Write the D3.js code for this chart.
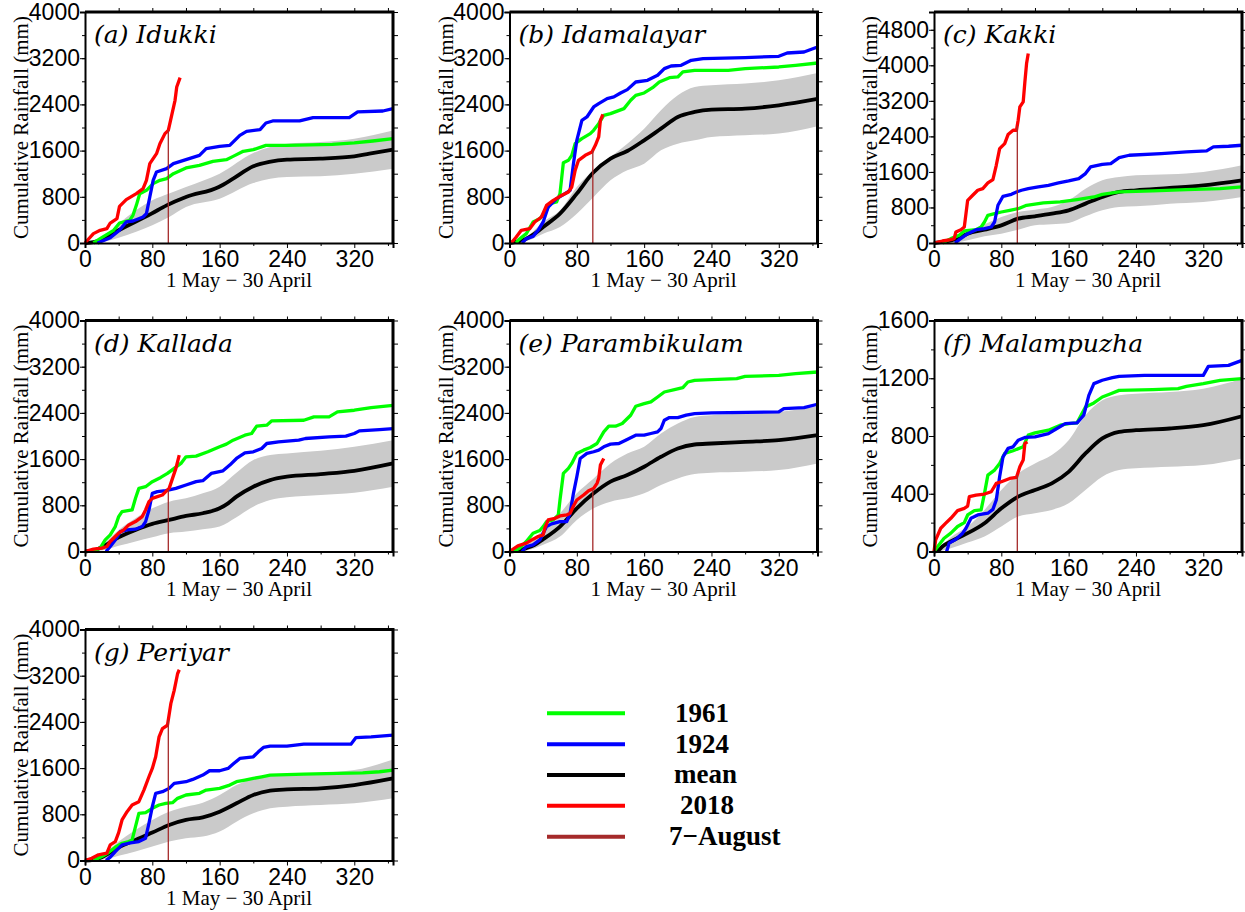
<!DOCTYPE html>
<html>
<head>
<meta charset="utf-8">
<script src="https://cdn.jsdelivr.net/npm/d3@7"></script>
<style>
  body { margin: 0; background: #fff; }
  svg { display: block; }
  .tick text { font-family: "Liberation Sans", Arial, sans-serif; font-size: 23px; fill: #000; }
</style>
</head>
<body>
<div class="chart"></div>
<script>
// [day since 1 May, cumulative mm]; band rows are [day, lower, upper]

// (a) Idukki
const idukkiMean = [[0,0],[10,15],[18,46],[40,220],[79,508],[97,652],[120,797],[159,970],[176,1114],[200,1328],[219,1403],[240,1443],[279,1460],[320,1500],[338,1547],[366,1616]];
const idukkiBand = [[0,0,0],[20,20,80],[40,92,335],[80,306,739],[100,450,855],[120,623,970],[160,768,1200],[200,1039,1558],[220,1114,1663],[240,1143,1720],[280,1155,1749],[320,1200,1807],[366,1287,1950]];
const idukki1961 = [[10,0],[18,75],[34,220],[41,346],[53,392],[57,479],[61,652],[65,854],[73,912],[81,1028],[89,1085],[97,1114],[105,1200],[120,1299],[136,1345],[152,1414],[168,1443],[176,1500],[188,1588],[200,1616],[215,1691],[240,1691],[294,1709],[320,1732],[342,1766],[366,1807]];
const idukki1924 = [[15,0],[30,92],[41,220],[49,364],[57,381],[69,450],[73,508],[77,797],[81,1085],[85,1230],[97,1287],[105,1374],[120,1443],[136,1518],[144,1634],[160,1674],[172,1691],[184,1865],[192,1934],[208,1963],[215,2078],[223,2113],[255,2113],[271,2171],[314,2171],[324,2269],[354,2286],[366,2327]];
const idukki2018 = [[0,0],[10,162],[18,220],[26,248],[30,346],[38,421],[41,635],[49,750],[61,854],[69,941],[73,1085],[77,1374],[85,1547],[89,1720],[95,1894],[99,1951],[103,2211],[107,2471],[109,2702],[113,2863]];

// (b) Idamalayar
const idamalayarMean = [[0,0],[20,75],[30,162],[40,277],[60,508],[80,854],[99,1212],[120,1460],[140,1593],[160,1778],[180,1980],[200,2182],[220,2269],[240,2309],[280,2327],[320,2384],[366,2494]];
const idamalayarBand = [[0,0,0],[20,35,104],[40,162,364],[60,277,566],[80,508,970],[100,797,1258],[120,1085,1490],[140,1258,1720],[160,1374,1980],[180,1605,2298],[200,1720,2557],[220,1778,2702],[240,1836,2731],[280,1865,2760],[320,1894,2817],[366,2021,2944]];
const idamalayar1961 = [[8,0],[10,46],[20,162],[28,364],[36,421],[44,566],[48,681],[56,710],[60,854],[64,1391],[70,1432],[74,1518],[78,1720],[86,1807],[96,1894],[100,1951],[106,2067],[112,2211],[120,2240],[136,2327],[144,2471],[150,2557],[160,2598],[170,2690],[178,2788],[190,2863],[200,2875],[206,2962],[220,2990],[260,2990],[280,3019],[320,3048],[340,3077],[366,3117]];
const idamalayar1924 = [[15,0],[20,75],[28,115],[34,220],[40,364],[46,623],[56,768],[66,854],[72,912],[76,1374],[80,1778],[86,2124],[92,2182],[100,2355],[106,2413],[116,2500],[124,2529],[132,2598],[140,2656],[150,2788],[164,2817],[176,2904],[184,3019],[192,3065],[204,3077],[216,3163],[230,3192],[280,3210],[320,3233],[330,3290],[350,3307],[366,3394]];
const idamalayar2018 = [[2,0],[8,104],[14,220],[24,248],[30,364],[38,450],[44,652],[52,739],[60,808],[70,883],[74,970],[78,1258],[82,1432],[90,1518],[98,1576],[102,1691],[106,1836],[108,2124],[111,2228]];

// (c) Kakki
const kakkiMean = [[0,0],[10,23],[30,120],[40,210],[60,300],[80,398],[100,548],[120,601],[140,661],[160,736],[180,886],[200,1036],[220,1149],[240,1187],[280,1239],[320,1299],[366,1412]];
const kakkiBand = [[0,0,0],[20,0,60],[40,60,248],[60,150,420],[80,210,586],[100,300,698],[120,398,751],[140,420,811],[160,450,961],[180,601,1224],[200,736,1412],[220,811,1487],[240,826,1525],[280,886,1547],[320,924,1600],[366,1036,1750]];
const kakki1961 = [[10,0],[20,98],[30,173],[36,270],[50,300],[56,360],[60,473],[64,623],[72,661],[80,698],[90,736],[100,773],[110,849],[130,901],[150,924],[170,976],[190,1036],[200,1096],[220,1149],[260,1172],[300,1202],[340,1224],[366,1262]];
const kakki1924 = [[25,0],[30,75],[40,210],[50,300],[60,323],[68,360],[72,473],[76,849],[82,1051],[92,1096],[98,1149],[104,1187],[112,1224],[124,1262],[136,1299],[148,1352],[160,1397],[172,1449],[180,1562],[186,1712],[200,1772],[210,1787],[220,1923],[232,1975],[270,2013],[300,2050],[324,2073],[332,2163],[350,2178],[366,2200]];
const kakki2018 = [[0,0],[10,45],[20,75],[24,98],[26,248],[32,300],[36,360],[38,661],[40,961],[46,1074],[52,1187],[58,1224],[64,1352],[70,1427],[74,1750],[78,2125],[84,2238],[88,2441],[94,2538],[98,2538],[100,2764],[102,3064],[106,3177],[108,3627],[110,4040],[112,4266]];

// (d) Kallada
const kalladaMean = [[0,0],[10,17],[20,75],[40,247],[60,374],[80,478],[100,547],[120,616],[140,662],[160,748],[170,834],[180,950],[200,1122],[220,1237],[240,1295],[280,1341],[320,1398],[366,1525]];
const kalladaBand = [[0,0,0],[20,17,115],[40,98,374],[60,173,575],[80,247,748],[100,317,863],[120,345,921],[140,386,1007],[160,432,1122],[180,593,1364],[200,777,1583],[220,892,1669],[240,938,1698],[280,978,1744],[320,1019,1813],[366,1122,1928]];
const kallada1961 = [[8,0],[18,58],[24,201],[30,288],[36,432],[40,604],[44,691],[56,719],[60,921],[64,1093],[72,1122],[80,1209],[90,1283],[98,1352],[106,1439],[114,1525],[120,1640],[132,1652],[146,1727],[160,1813],[168,1859],[176,1928],[190,2014],[198,2043],[204,2170],[216,2187],[222,2262],[260,2273],[272,2331],[290,2331],[300,2417],[320,2446],[340,2492],[366,2532]];
const kallada1924 = [[25,0],[30,86],[36,201],[42,345],[50,374],[60,386],[68,432],[72,518],[76,719],[80,1007],[86,1036],[96,1053],[108,1093],[120,1151],[132,1209],[140,1226],[150,1352],[164,1398],[172,1496],[180,1611],[190,1709],[200,1727],[210,1784],[216,1870],[230,1899],[254,1928],[262,1957],[290,1985],[310,1997],[320,2043],[326,2089],[350,2112],[366,2129]];
const kallada2018 = [[0,0],[10,40],[20,58],[26,86],[30,173],[36,259],[40,317],[46,374],[52,460],[60,518],[68,604],[72,719],[76,863],[80,921],[86,950],[92,978],[96,1036],[100,1093],[104,1266],[108,1439],[112,1669]];

// (e) Parambikulam
const parambikulamMean = [[0,0],[10,17],[20,58],[30,115],[40,213],[60,432],[80,748],[100,1007],[120,1209],[140,1324],[160,1468],[180,1640],[200,1784],[220,1853],[240,1870],[280,1899],[320,1928],[366,2014]];
const parambikulamBand = [[0,0,0],[20,17,115],[40,115,374],[60,259,662],[80,547,1007],[100,748,1266],[120,863,1525],[140,921,1698],[160,1007,1813],[180,1151,2043],[200,1266,2216],[220,1341,2331],[240,1364,2360],[280,1381,2388],[320,1410,2417],[366,1525,2515]];
const parambikulam1961 = [[5,0],[12,58],[20,173],[28,317],[36,363],[40,432],[44,518],[52,547],[58,633],[60,892],[64,1352],[70,1439],[74,1525],[80,1698],[88,1755],[96,1801],[104,1870],[112,2072],[118,2170],[126,2170],[134,2216],[144,2360],[150,2515],[160,2561],[168,2590],[176,2676],[184,2762],[196,2802],[206,2837],[212,2935],[220,2964],[240,2976],[270,2993],[280,3033],[320,3050],[340,3079],[366,3108]];
const parambikulam1924 = [[15,0],[20,86],[28,115],[36,201],[44,432],[50,478],[60,518],[68,518],[72,662],[76,1007],[80,1295],[84,1611],[92,1698],[100,1727],[106,1755],[112,1813],[120,1859],[130,1870],[138,1928],[150,2014],[160,2014],[168,2043],[176,2072],[180,2129],[184,2273],[190,2319],[200,2319],[210,2360],[220,2388],[240,2400],[320,2417],[326,2475],[350,2492],[366,2550]];
const parambikulam2018 = [[0,0],[10,98],[20,144],[28,213],[34,259],[40,288],[42,403],[46,547],[54,575],[60,616],[68,633],[72,662],[76,788],[80,892],[88,978],[94,1053],[100,1093],[104,1180],[106,1266],[108,1496],[112,1611]];

// (f) Malampuzha
const malampuzhaMean = [[0,0],[5,7],[10,35],[20,69],[30,99],[40,127],[60,196],[80,299],[100,380],[120,426],[140,472],[160,552],[180,679],[200,783],[220,829],[240,840],[280,852],[320,875],[366,937]];
const malampuzhaBand = [[0,0,0],[10,7,46],[20,23,99],[40,62,173],[60,104,288],[80,173,426],[100,242,541],[120,265,610],[140,288,668],[160,334,771],[180,426,944],[200,518,1047],[220,564,1082],[240,576,1093],[280,587,1105],[320,599,1128],[366,645,1197]];
const malampuzha1961 = [[0,0],[6,46],[12,92],[20,127],[28,173],[36,200],[40,253],[48,283],[56,288],[60,403],[64,529],[72,564],[78,610],[84,679],[94,698],[106,725],[112,806],[120,822],[136,840],[150,875],[160,886],[170,891],[180,1001],[190,1029],[200,1070],[210,1093],[220,1116],[260,1121],[290,1128],[300,1144],[320,1163],[340,1186],[366,1197]];
const malampuzha1924 = [[15,0],[18,58],[26,85],[34,127],[38,161],[44,230],[52,253],[64,265],[70,292],[74,357],[78,518],[82,656],[88,714],[94,725],[100,771],[108,790],[120,794],[136,817],[146,852],[156,886],[170,891],[178,944],[184,1082],[190,1163],[200,1186],[212,1204],[220,1213],[250,1220],[320,1220],[326,1282],[350,1289],[366,1324]];
const malampuzha2018 = [[0,0],[2,81],[8,161],[14,196],[20,230],[28,283],[36,299],[40,315],[42,380],[50,391],[60,398],[68,414],[74,472],[80,483],[90,506],[98,513],[102,587],[106,633],[108,748],[111,760]];

// (g) Periyar
const periyarMean = [[0,0],[10,12],[20,58],[40,230],[60,357],[80,483],[100,616],[120,702],[140,748],[160,846],[180,990],[200,1134],[220,1209],[240,1232],[280,1249],[320,1306],[366,1421]];
const periyarBand = [[0,0,0],[20,12,98],[40,81,328],[60,155,529],[80,242,702],[100,328,846],[120,386,932],[140,414,1001],[160,501,1134],[180,673,1306],[200,817,1421],[220,904,1479],[240,932,1496],[280,961,1519],[320,990,1565],[366,1076,1750]];
const periyar1961 = [[10,0],[20,69],[28,138],[36,230],[44,299],[52,328],[56,357],[60,587],[64,817],[72,829],[80,904],[88,961],[96,990],[104,1001],[110,1076],[120,1134],[136,1163],[144,1220],[160,1249],[172,1306],[180,1364],[190,1393],[200,1421],[210,1450],[220,1479],[260,1496],[300,1508],[330,1519],[350,1537],[366,1565]];
const periyar1924 = [[25,0],[30,58],[36,155],[44,270],[52,299],[64,328],[72,386],[76,645],[80,932],[84,1163],[92,1191],[100,1249],[106,1335],[120,1364],[128,1404],[140,1479],[148,1554],[160,1554],[170,1594],[176,1669],[184,1767],[200,1796],[206,1882],[212,1957],[220,1980],[240,1980],[260,2014],[316,2014],[322,2129],[340,2141],[366,2170]];
const periyar2018 = [[0,0],[8,40],[16,98],[26,127],[30,270],[36,328],[40,483],[44,702],[50,846],[56,961],[64,1019],[70,1220],[76,1450],[80,1594],[84,1796],[88,2141],[92,2285],[98,2342],[102,2716],[106,2946],[110,3234],[112,3303]];

const titles = ["(a) Idukki", "(b) Idamalayar", "(c) Kakki", "(d) Kallada", "(e) Parambikulam", "(f) Malampuzha", "(g) Periyar"];
const yMax = [4000, 4000, 5200, 4000, 4000, 1600, 4000];
const yStep = [800, 800, 800, 800, 800, 400, 800];
const xTicks = [0, 80, 160, 240, 320];
const augDay = 99; // 7 August

const legendLabels = ["1961", "1924", "mean", "2018", "7\u2212August"];
const legendColors = ["#00ff00", "#0000ff", "#000000", "#ff0000", "#a52a2a"];

const panels = [
  [idukkiMean, idukkiBand, idukki1961, idukki1924, idukki2018],
  [idamalayarMean, idamalayarBand, idamalayar1961, idamalayar1924, idamalayar2018],
  [kakkiMean, kakkiBand, kakki1961, kakki1924, kakki2018],
  [kalladaMean, kalladaBand, kallada1961, kallada1924, kallada2018],
  [parambikulamMean, parambikulamBand, parambikulam1961, parambikulam1924, parambikulam2018],
  [malampuzhaMean, malampuzhaBand, malampuzha1961, malampuzha1924, malampuzha2018],
  [periyarMean, periyarBand, periyar1961, periyar1924, periyar2018]
];

const W = 1245, H = 912;
const pw = 308, ph = 231;
const colX = [85, 509.5, 934];
const rowY = [12, 320.5, 629.5];

const svg = d3
  .select(".chart")
  .append("svg")
  .attr("width", W)
  .attr("height", H);

svg.append("rect").attr("width", W).attr("height", H).attr("fill", "#fff");

const x = d3.scaleLinear().domain([0, 366]).range([0, pw]);

panels.forEach((p, i) => {
  const [mean, band, y1961, y1924, y2018] = p;
  const y = d3.scaleLinear().domain([0, yMax[i]]).range([ph, 0]);
  const g = svg
    .append("g")
    .attr("transform", "translate(" + colX[i % 3] + "," + rowY[Math.floor(i / 3)] + ")");

  // spread of the climatology
  g.append("path")
    .datum(band)
    .attr("fill", "#cacaca")
    .attr("d", d3.area().curve(d3.curveMonotoneX).x(d => x(d[0])).y0(d => y(d[1])).y1(d => y(d[2])));

  const line = d3.line().x(d => x(d[0])).y(d => y(d[1]));
  const smooth = d3.line().curve(d3.curveMonotoneX).x(d => x(d[0])).y(d => y(d[1]));

  [[mean, "#000000", 3.8, smooth], [y1961, "#00ff00", 3.3, line], [y1924, "#0000ff", 3.3, line], [y2018, "#ff0000", 3.3, line]]
    .forEach(s => {
      g.append("path")
        .datum(s[0])
        .attr("fill", "none")
        .attr("stroke", s[1])
        .attr("stroke-width", s[2])
        .attr("stroke-linejoin", "round")
        .attr("d", s[3]);
    });

  // 7 August marker up to the 2018 curve
  const k = d3.bisector(d => d[0]).left(y2018, augDay);
  const a = y2018[k - 1], b = y2018[k];
  const v = a[1] + (b[1] - a[1]) * (augDay - a[0]) / (b[0] - a[0]);
  g.append("line")
    .attr("x1", x(augDay)).attr("x2", x(augDay))
    .attr("y1", y(0)).attr("y2", y(v))
    .attr("stroke", "#a52a2a")
    .attr("stroke-width", 1.3);

  // axes
  const minorY = d3.range(0, yMax[i] + 1, yStep[i] / 2);
  const majorY = d3.range(0, yMax[i] + 1, yStep[i]);

  g.append("g")
    .call(d3.axisLeft(y).tickValues(minorY).tickSize(3).tickFormat(""))
    .call(s => s.select(".domain").remove());
  g.append("g")
    .call(d3.axisLeft(y).tickValues(majorY).tickSize(5).tickPadding(0).tickFormat(d3.format("d")))
    .call(s => s.select(".domain").attr("stroke-width", 2));

  g.append("g")
    .attr("transform", "translate(0," + ph + ")")
    .call(d3.axisBottom(x).tickValues(d3.range(40, 366, 80)).tickSize(3).tickFormat(""))
    .call(s => s.select(".domain").remove());
  g.append("g")
    .attr("transform", "translate(0," + ph + ")")
    .call(d3.axisBottom(x).tickValues(xTicks).tickSize(5).tickPadding(3))
    .call(s => s.select(".domain").attr("stroke-width", 2));

  g.append("g")
    .call(d3.axisTop(x).tickValues(d3.range(40, 366, 40)).tickSize(4).tickFormat(""))
    .call(s => s.select(".domain").remove());
  g.append("g")
    .attr("transform", "translate(" + pw + ",0)")
    .call(d3.axisRight(y).tickValues(minorY).tickSize(5).tickFormat(""))
    .call(s => s.select(".domain").remove());

  g.append("path")
    .attr("d", "M0,0H" + pw + "V" + ph)
    .attr("fill", "none")
    .attr("stroke", "#000")
    .attr("stroke-width", 3);

  g.append("text")
    .attr("transform", "translate(-57," + ph / 2 + ") rotate(-90)")
    .attr("text-anchor", "middle")
    .style("font-family", "'Liberation Serif', 'Times New Roman', serif")
    .style("font-size", "21px")
    .text("Cumulative Rainfall (mm)");

  g.append("text")
    .attr("x", pw / 2)
    .attr("y", ph + 44)
    .attr("text-anchor", "middle")
    .style("font-family", "'Liberation Serif', 'Times New Roman', serif")
    .style("font-size", "21px")
    .text("1 May \u2212 30 April");

  g.append("text")
    .attr("x", 9)
    .attr("y", 31)
    .style("font-family", "'DejaVu Serif', serif")
    .style("font-style", "italic")
    .style("font-size", "25px")
    .text(titles[i]);
});

// legend
const legendNudge = [0, 0, -1, 5, -6];
const legend = svg.append("g").attr("transform", "translate(547,713.3)");
legendLabels.forEach((lab, i) => {
  const ly = i * 30.85;
  legend.append("line")
    .attr("x1", 0).attr("x2", 78)
    .attr("y1", ly).attr("y2", ly)
    .attr("stroke", legendColors[i])
    .attr("stroke-width", 4);
  legend.append("text")
    .attr("x", 128 + legendNudge[i])
    .attr("y", ly + 8.5)
    .style("font-family", "'Liberation Serif', 'Times New Roman', serif")
    .style("font-weight", "bold")
    .style("font-size", "27px")
    .text(lab);
});
</script>
</body>
</html>
